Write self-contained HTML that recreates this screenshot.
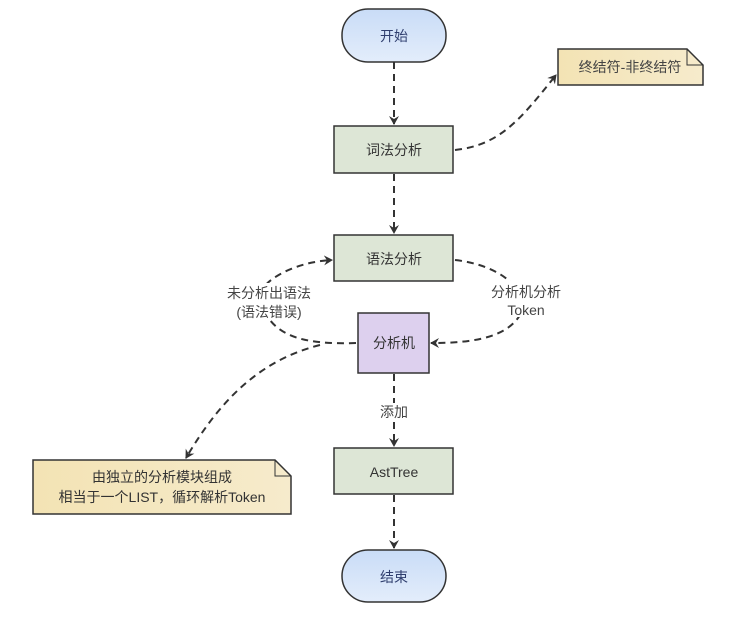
<!DOCTYPE html>
<html><head><meta charset="utf-8"><style>
body{margin:0;background:#fff;width:751px;height:637px;overflow:hidden}
svg text{font-family:"Liberation Sans","Noto Sans CJK SC",sans-serif;font-size:14px}
</style></head><body>
<svg width="751" height="637" viewBox="0 0 751 637" xmlns="http://www.w3.org/2000/svg">
<defs>
<marker id="a" markerWidth="10" markerHeight="10" refX="8" refY="5" orient="auto" markerUnits="userSpaceOnUse">
<path d="M0,0 L9,5 L0,10 L3,5 Z" fill="#333"/></marker>
<linearGradient id="b" x1="0" y1="0" x2="0" y2="1"><stop offset="0" stop-color="#c9dcf7"/><stop offset="1" stop-color="#e3edfb"/></linearGradient>
<linearGradient id="y" x1="0" y1="0" x2="1" y2="0"><stop offset="0" stop-color="#f3e3b4"/><stop offset="1" stop-color="#f6ebcc"/></linearGradient>
</defs>
<g stroke="#333" stroke-width="2" stroke-dasharray="7,5" fill="none" marker-end="url(#a)">
<path d="M394,62 L394,124"/>
<path d="M394,174 L394,233"/>
<path d="M455,150 C500,145 520,120 556,75"/>
<path d="M455,260 C500,265 530,290 520,315 C505,340 465,343 431,343"/>
<path d="M356,343 C300,345 270,335 260,300 C255,285 290,262 332,260"/>
<path d="M320,345 C260,360 220,400 186,458"/>
<path d="M394,374 L394,446"/>
<path d="M394,495 L394,548"/>
</g>
<rect x="342" y="9" width="104" height="53" rx="26" fill="url(#b)" stroke="#333" stroke-width="1.5"/>
<text x="394" y="41" text-anchor="middle" fill="#2f3e6e">开始</text>
<rect x="334" y="126" width="119" height="47" fill="#dde6d6" stroke="#333" stroke-width="1.5"/>
<text x="394" y="155" text-anchor="middle" fill="#333">词法分析</text>
<rect x="334" y="235" width="119" height="46" fill="#dde6d6" stroke="#333" stroke-width="1.5"/>
<text x="394" y="264" text-anchor="middle" fill="#333">语法分析</text>
<rect x="358" y="313" width="71" height="60" fill="#ddd0ee" stroke="#333" stroke-width="1.5"/>
<text x="394" y="348" text-anchor="middle" fill="#333">分析机</text>
<rect x="334" y="448" width="119" height="46" fill="#dde6d6" stroke="#333" stroke-width="1.5"/>
<text x="394" y="477" text-anchor="middle" fill="#333">AstTree</text>
<rect x="342" y="550" width="104" height="52" rx="26" fill="url(#b)" stroke="#333" stroke-width="1.5"/>
<text x="394" y="582" text-anchor="middle" fill="#2f3e6e">结束</text>
<path d="M558,49 L687,49 L703,65 L703,85 L558,85 Z" fill="url(#y)" stroke="#333" stroke-width="1.5"/>
<path d="M687,49 L687,65 L703,65" fill="none" stroke="#333" stroke-width="1"/>
<text x="630" y="72" text-anchor="middle" fill="#444" font-size="13">终结符-非终结符</text>
<path d="M33,460 L275,460 L291,476 L291,514 L33,514 Z" fill="url(#y)" stroke="#333" stroke-width="1.5"/>
<path d="M275,460 L275,476 L291,476" fill="none" stroke="#333" stroke-width="1"/>
<text x="162" y="482" text-anchor="middle" fill="#333">由独立的分析模块组成</text>
<text x="162" y="502" text-anchor="middle" fill="#333">相当于一个LIST，循环解析Token</text>
<rect x="222" y="283" width="92" height="36" fill="#fff"/>
<text x="269" y="298" text-anchor="middle" fill="#444">未分析出语法</text>
<text x="269" y="317" text-anchor="middle" fill="#444">(语法错误)</text>
<rect x="485" y="281" width="82" height="36" fill="#fff"/>
<text x="526" y="297" text-anchor="middle" fill="#444">分析机分析</text>
<text x="526" y="315" text-anchor="middle" fill="#444">Token</text>
<rect x="376" y="403" width="36" height="18" fill="#fff"/>
<text x="394" y="417" text-anchor="middle" fill="#444">添加</text>
</svg>
</body></html>
